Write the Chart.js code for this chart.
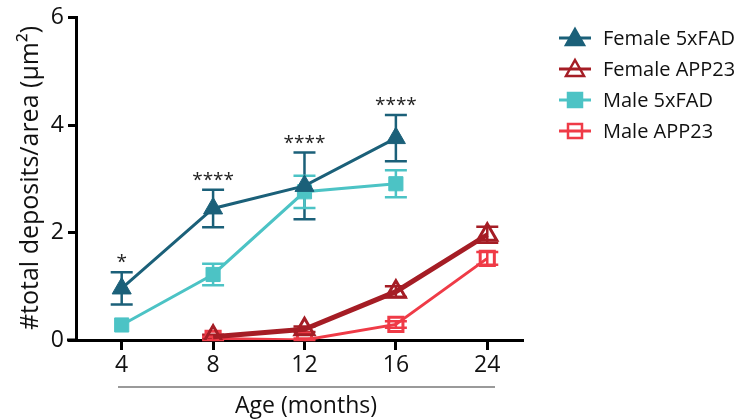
<!DOCTYPE html>
<html>
<head>
<meta charset="utf-8">
<script src="https://cdn.jsdelivr.net/npm/chart.js@4"></script>
<style>
  html, body { margin: 0; padding: 0; background: #fff; }
  #wrap { width: 753px; height: 419px; position: relative; }
</style>
</head>
<body>
<div id="wrap"><canvas id="chart" width="753" height="419"></canvas></div>
<script>
// x positions are category slots (equal spacing)
const ageLabels = ["4", "8", "12", "16", "24"];

const femaleFad = [0.96, 2.45, 2.87, 3.76, null];
const femaleFadErr = [0.30, 0.35, 0.62, 0.43, null];
const maleFad = [0.28, 1.22, 2.76, 2.91, null];
const maleFadErr = [0, 0.20, 0.30, 0.25, null];
const femaleApp = [null, 0.06, 0.20, 0.90, 1.96];
const femaleAppErr = [null, 0.04, 0.05, 0.10, 0.15];
const maleApp = [null, 0.03, 0.00, 0.29, 1.52];
const maleAppErr = [null, 0.03, 0.03, 0.06, 0.12];

const stars = ["*", "****", "****", "****", ""];

const FONT = "'Open Sans', 'Noto Sans', sans-serif";

function pts(arr) {
  return arr.map((v, i) => ({ x: i, y: v }));
}

const series = [
  { label: "Female 5xFAD", data: femaleFad, err: femaleFadErr, color: "#1b6079", style: "triangle", fill: true, width: 3 },
  { label: "Female APP23", data: femaleApp, err: femaleAppErr, color: "#a51d25", style: "triangle", fill: false, width: 5 },
  { label: "Male 5xFAD", data: maleFad, err: maleFadErr, color: "#4cc3c5", style: "rect", fill: true, width: 3 },
  { label: "Male APP23", data: maleApp, err: maleAppErr, color: "#ef3b47", style: "rect", fill: false, width: 3 }
];

const errorBars = {
  id: "errorBars",
  beforeDatasetsDraw(chart) {
    const ctx = chart.ctx;
    const xs = chart.scales.x, ys = chart.scales.y;
    ctx.save();
    series.forEach(s => {
      ctx.strokeStyle = s.color;
      ctx.lineWidth = 2.5;
      s.data.forEach((v, i) => {
        const e = s.err[i];
        if (v === null || !e) return;
        const x = xs.getPixelForValue(i);
        const y1 = ys.getPixelForValue(v + e);
        const y2 = ys.getPixelForValue(Math.max(0, v - e));
        ctx.beginPath();
        ctx.moveTo(x, y1); ctx.lineTo(x, y2);
        ctx.moveTo(x - 11, y1); ctx.lineTo(x + 11, y1);
        ctx.moveTo(x - 11, y2); ctx.lineTo(x + 11, y2);
        ctx.stroke();
      });
    });
    ctx.restore();
  }
};

const extras = {
  id: "extras",
  afterDraw(chart) {
    const ctx = chart.ctx;
    const xs = chart.scales.x, ys = chart.scales.y;
    ctx.save();

    // x axis line runs a bit left of the y axis
    ctx.strokeStyle = "#000";
    ctx.lineWidth = 3;
    const y0 = ys.getPixelForValue(0);
    ctx.beginPath();
    ctx.moveTo(67, y0); ctx.lineTo(xs.left, y0);
    ctx.stroke();

    // significance stars
    ctx.fillStyle = "#222";
    ctx.font = "19px " + FONT;
    ctx.textAlign = "center";
    ctx.textBaseline = "alphabetic";
    stars.forEach((st, i) => {
      if (!st) return;
      const top = femaleFad[i] + femaleFadErr[i];
      ctx.fillText(st, xs.getPixelForValue(i), ys.getPixelForValue(top) - 4);
    });

    // grey line under x tick labels
    ctx.strokeStyle = "#9a9a9a";
    ctx.lineWidth = 2;
    ctx.beginPath();
    ctx.moveTo(118, 387); ctx.lineTo(495, 387);
    ctx.stroke();

    // axis titles
    ctx.fillStyle = "#111";
    ctx.font = "23px " + FONT;
    ctx.textAlign = "center";
    ctx.textBaseline = "alphabetic";
    ctx.fillText("Age (months)", 306, 413);

    ctx.translate(38, 178);
    ctx.rotate(-Math.PI / 2);
    ctx.font = "25px " + FONT;
    ctx.fillText("#total deposits/area (µm²)", 0, 0);
    ctx.setTransform(1, 0, 0, 1, 0, 0);

    // legend
    const rows = [38, 69, 100, 131];
    series.forEach((s, k) => {
      const y = rows[k];
      ctx.strokeStyle = s.color;
      ctx.lineWidth = 3;
      ctx.beginPath();
      ctx.moveTo(559, y); ctx.lineTo(591, y);
      ctx.stroke();
      ctx.fillStyle = s.color;
      ctx.lineWidth = 2.5;
      ctx.beginPath();
      if (s.style === "triangle") {
        ctx.moveTo(575, y - 9); ctx.lineTo(584, y + 7); ctx.lineTo(566, y + 7); ctx.closePath();
      } else {
        ctx.rect(568, y - 7, 14, 14);
      }
      if (s.fill) { ctx.fill(); ctx.stroke(); }
      else { ctx.stroke(); }
      ctx.fillStyle = "#111";
      ctx.font = "20px " + FONT;
      ctx.textAlign = "left";
      ctx.textBaseline = "middle";
      ctx.fillText(s.label, 603, y + 1);
    });
    ctx.restore();
  }
};

new Chart(document.getElementById("chart"), {
  type: "line",
  data: {
    datasets: series.map(s => ({
      label: s.label,
      data: pts(s.data),
      borderColor: s.color,
      borderWidth: s.width,
      pointStyle: s.style,
      pointRadius: s.style === "triangle" ? 11 : 10,
      pointBorderWidth: s.fill ? 1 : 3,
      pointBorderColor: s.color,
      pointBackgroundColor: s.fill ? s.color : "rgba(0,0,0,0)",
      spanGaps: false,
      tension: 0
    }))
  },
  options: {
    responsive: false,
    animation: false,
    layout: { padding: { top: 14, right: 231, left: 0, bottom: 0 } },
    plugins: { legend: { display: false }, tooltip: { enabled: false } },
    scales: {
      x: {
        type: "linear",
        min: -0.5,
        max: 4.38,
        afterBuildTicks: sc => { sc.ticks = ageLabels.map((_, i) => ({ value: i })); },
        afterFit: sc => { sc.height = 79; },
        ticks: {
          callback: v => ageLabels[v],
          color: "#111",
          font: { family: FONT, size: 23 },
          padding: 2,
          maxRotation: 0
        },
        grid: { drawOnChartArea: false, drawTicks: true, tickLength: 10, color: "#000", lineWidth: 3 },
        border: { display: true, color: "#000", width: 3 }
      },
      y: {
        min: 0,
        max: 6,
        afterFit: sc => { sc.width = 76; },
        ticks: {
          stepSize: 2,
          color: "#111",
          font: { family: FONT, size: 23 },
          padding: 4
        },
        grid: { drawOnChartArea: false, drawTicks: true, tickLength: 8, color: "#000", lineWidth: 3 },
        border: { display: true, color: "#000", width: 3 }
      }
    }
  },
  plugins: [errorBars, extras]
});
</script>
</body>
</html>
